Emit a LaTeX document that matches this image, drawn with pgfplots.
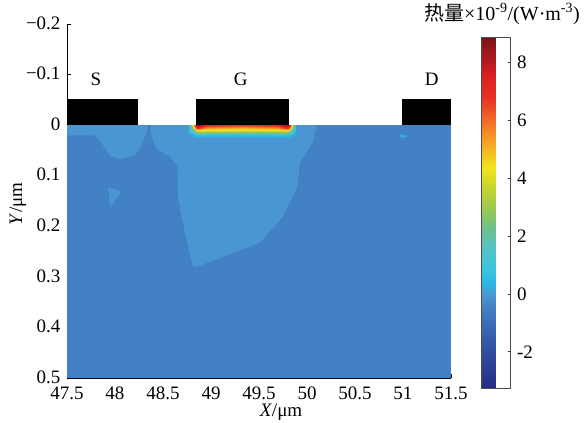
\documentclass[border=0pt]{standalone}
\usepackage{fontspec}
\setmainfont{Liberation Serif}
\newfontfamily\cjk{Noto Sans CJK SC}
\usepackage{pgfplots}
\pgfplotsset{compat=1.18}
\definecolor{fieldB}{RGB}{66,130,196}
\definecolor{fieldL}{RGB}{74,150,210}
\definecolor{speck}{RGB}{60,170,222}
\pgfplotsset{colormap={refjet}{
 rgb255(0pt)=(38,42,135)
 rgb255(12pt)=(48,75,160)
 rgb255(20pt)=(58,100,180)
 rgb255(28pt)=(66,130,196)
 rgb255(32pt)=(74,150,210)
 rgb255(36pt)=(45,180,230)
 rgb255(40pt)=(55,195,225)
 rgb255(48pt)=(85,195,200)
 rgb255(54pt)=(105,192,150)
 rgb255(62pt)=(155,200,80)
 rgb255(70pt)=(205,215,45)
 rgb255(76pt)=(242,228,30)
 rgb255(84pt)=(245,170,35)
 rgb255(92pt)=(240,110,40)
 rgb255(100pt)=(232,50,35)
 rgb255(108pt)=(220,30,35)
 rgb255(114pt)=(170,25,30)
 rgb255(121pt)=(120,20,25)
}}
\begin{document}
\fontsize{19}{22}\selectfont
\begin{tikzpicture}
\useasboundingbox (-67pt,-45pt) rectangle (517pt,378pt);
\begin{axis}[
 at={(0pt,0pt)}, anchor=south west,
 scale only axis, width=384pt, height=354pt,
 xmin=47.5, xmax=51.5, ymin=-0.2, ymax=0.5, y dir=reverse,
 axis x line=bottom, axis y line=left,
 axis line style={-, line width=1pt},
 xtick={47.5,48,48.5,49,49.5,50,50.5,51,51.5},
 xticklabels={47.5,48,48.5,49,49.5,50,50.5,51,51.5},
 ytick={-0.2,-0.1,0,0.1,0.2,0.3,0.4,0.5},
 yticklabels={−0.2,−0.1,0,0.1,0.2,0.3,0.4,0.5},
 tick align=inside, major tick length=4pt, tick style={line width=0.8pt, black},
 xticklabel style={yshift=-2pt},
 yticklabel style={yshift=1pt},
 colormap name=refjet, point meta min=-3.25, point meta max=8.86,
 colorbar,
 colorbar style={
   at={(parent axis.south east)}, anchor=south west,
   xshift=22pt, yshift=-10pt,
   scale only axis, width=29pt, height=351pt,
   ytick={-2,0,2,4,6,8}, yticklabels={-2,0,2,4,6,8},
   ytick pos=right, tick align=inside, major tick length=3pt,
   tick style={line width=0.6pt, black!80},
   axis line style={line width=0.4pt, black!70},
 },
 clip=true,
]
% background field
\addplot[fill=fieldB, draw=none] coordinates {(47.5,0) (51.5,0) (51.5,0.5) (47.5,0.5)} -- cycle;
% lighter region top left
\addplot[fill=fieldL, draw=none] coordinates {(47.5,0) (48.34,0) (48.33,0.014) (48.28,0.038) (48.21,0.060) (48.07,0.067) (47.95,0.0615) (47.87,0.038) (47.79,0.020) (47.5,0.020)} -- cycle;
% lighter region under gate
\addplot[fill=fieldL, draw=none] coordinates {(48.38,0) (50.10,0) (50.06,0.034) (49.93,0.073) (49.90,0.121) (49.75,0.181) (49.51,0.232) (49.13,0.260) (48.85,0.280) (48.81,0.280) (48.70,0.187) (48.66,0.147) (48.65,0.081) (48.57,0.062) (48.44,0.048) (48.39,0.028) (48.37,0.008)} -- cycle;
% small light triangle
\addplot[fill=fieldL, draw=none] coordinates {(47.93,0.123) (48.07,0.131) (47.95,0.163)} -- cycle;
% speck near drain
\addplot[fill=speck, draw=none] coordinates {(50.97,0.018) (51.06,0.022) (50.98,0.026)} -- cycle;
% heat strip under the gate
\addplot[surf, shader=interp, mesh/cols=11, point meta=explicit] table[x index=0, y index=1, meta index=2] {
48.76 0 -0.05
48.81 0 4.5
48.84 0 8.2
48.87 0 8.6
48.95 0 7.3
49.33 0 6.8
49.70 0 7.3
49.78 0 8.6
49.81 0 8.2
49.84 0 4.5
49.89 0 -0.05
48.76 0.005 -0.05
48.81 0.005 3.2
48.84 0.005 6.5
48.87 0.005 6.8
48.95 0.005 5.4
49.33 0.005 5.0
49.70 0.005 5.4
49.78 0.005 6.8
49.81 0.005 6.5
49.84 0.005 3.2
49.89 0.005 -0.05
48.76 0.010 0.2
48.81 0.010 1.8
48.84 0.010 3.8
48.87 0.010 4.4
48.95 0.010 4.3
49.33 0.010 4.2
49.70 0.010 4.3
49.78 0.010 4.4
49.81 0.010 3.8
49.84 0.010 1.8
49.89 0.010 0.2
48.76 0.015 0.1
48.81 0.015 0.7
48.84 0.015 1.8
48.87 0.015 2.4
48.95 0.015 2.2
49.33 0.015 2.0
49.70 0.015 2.2
49.78 0.015 2.4
49.81 0.015 1.8
49.84 0.015 0.7
49.89 0.015 0.1
48.76 0.020 -0.05
48.81 0.020 0.2
48.84 0.020 0.6
48.87 0.020 0.7
48.95 0.020 0.6
49.33 0.020 0.5
49.70 0.020 0.6
49.78 0.020 0.7
49.81 0.020 0.6
49.84 0.020 0.2
49.89 0.020 -0.05
48.76 0.026 -0.05
48.81 0.026 -0.05
48.84 0.026 -0.05
48.87 0.026 -0.05
48.95 0.026 -0.05
49.33 0.026 -0.05
49.70 0.026 -0.05
49.78 0.026 -0.05
49.81 0.026 -0.05
49.84 0.026 -0.05
49.89 0.026 -0.05
};
% electrodes
\addplot[fill=black, draw=none] coordinates {(47.5,0) (48.24,0) (48.24,-0.052) (47.5,-0.052)} -- cycle;
\addplot[fill=black, draw=none] coordinates {(48.84,0) (49.81,0) (49.81,-0.052) (48.84,-0.052)} -- cycle;
\addplot[fill=black, draw=none] coordinates {(50.99,0) (51.5,0) (51.5,-0.052) (50.99,-0.052)} -- cycle;
\node at (axis cs:47.80,-0.091) {S};
\node at (axis cs:49.31,-0.091) {G};
\node at (axis cs:51.30,-0.091) {D};
\end{axis}
\node at (214pt,-34pt) {\textit{X}/μm};
\node[rotate=90] at (-49pt,174pt) {\textit{Y}/μm};
\node at (435pt,364pt) {\fontsize{20}{22}\selectfont{\cjk 热量}×10\textsuperscript{-9}/(W·m\textsuperscript{-3})};
\end{tikzpicture}
\end{document}
